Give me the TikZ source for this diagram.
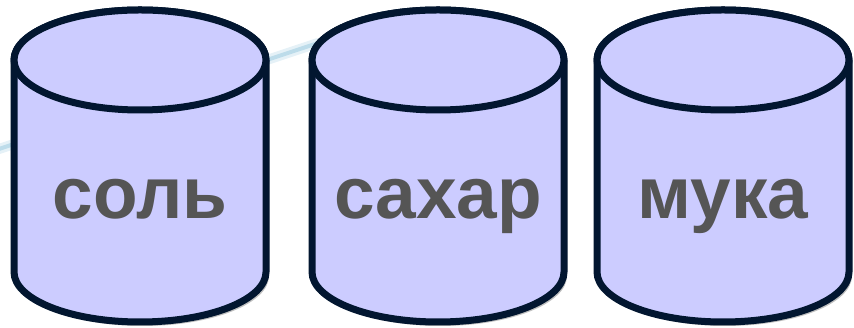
\documentclass[tikz,border=0pt]{standalone}
\usepackage{fontspec}
\setmainfont{Liberation Sans}
\definecolor{canfill}{RGB}{204,204,255}
\definecolor{canline}{RGB}{2,22,48}
\definecolor{labelgray}{RGB}{85,85,85}
\definecolor{streakblue}{RGB}{150,200,222}
\usetikzlibrary{shadows}

\begin{document}
\begin{tikzpicture}[x=1pt, y=1pt,
    jar/.style={draw=canline, fill=canfill, line width=7pt, line join=round},
    jarshadow/.style={drop shadow={shadow xshift=3pt, shadow yshift=-4pt, opacity=0.25, fill=black}},
    word/.style={anchor=base, text=labelgray, font=\bfseries\fontsize{73}{80}\selectfont}]
    \useasboundingbox (0,0) rectangle (854,328);
    % faint streak of the slide background
    \draw[streakblue, line width=10pt, opacity=0.25, line cap=round] (-10,176) -- (318,285);
    \draw[streakblue, line width=4pt, opacity=0.5, line cap=round] (-10,176) -- (318,285);
    \foreach \cx/\name/\word in {140/salt/соль, 438/sugar/сахар, 723/flour/мука} {
        \draw[jar, jarshadow] (\cx-126,268) -- (\cx-126,56)
            arc[start angle=180, end angle=360, x radius=126, y radius=50]
            -- (\cx+126,268)
            arc[start angle=0, end angle=180, x radius=126, y radius=50] -- cycle;
        \draw[jar] (\cx,268) ellipse[x radius=126, y radius=50];
        \node[word] (\name) at (\cx,109) {\word};
    }
\end{tikzpicture}
\end{document}
